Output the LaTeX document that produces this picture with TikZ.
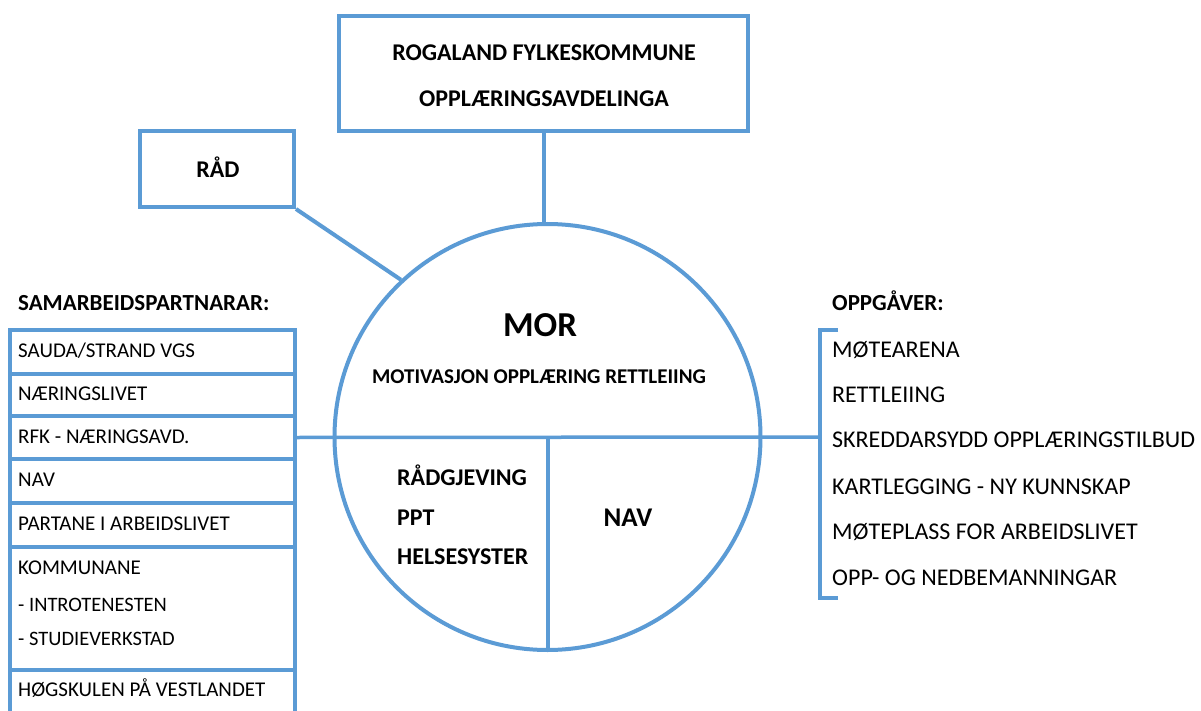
\documentclass[tikz,border=0pt]{standalone}
\usepackage{fontspec}
\setmainfont{Carlito}
\definecolor{accent}{RGB}{91,155,213}
\begin{document}
\begin{tikzpicture}[x=1pt,y=-1pt,
  box/.style={draw=accent, line width=4pt, inner sep=0pt},
  cell/.style={draw=accent, line width=3.5pt, minimum width=285pt, inner sep=0pt},
  conn/.style={draw=accent, line width=4pt},
  txt/.style={inner sep=0pt, text depth=0pt},
  litem/.style={txt, anchor=west, text height=13.5pt, font=\fontsize{21}{25}\selectfont},
  ritem/.style={txt, anchor=west, text height=15.5pt, font=\fontsize{24}{28}\selectfont},
  head/.style={txt, anchor=west, text height=14.8pt, font=\fontsize{23}{27}\selectfont\bfseries},
  btxt/.style={txt, text height=15.5pt, font=\fontsize{24}{28}\selectfont\bfseries}]
\useasboundingbox (0,0) rectangle (1201,711);
\clip (0,0) rectangle (1201,711);
\fill[white] (0,0) rectangle (1201,711);

% top box
\node[box, minimum width=409pt, minimum height=115pt] (rfk) at (543.5,73.5) {};
\node[btxt] (rfk1) at (544,53) {ROGALAND FYLKESKOMMUNE};
\node[btxt] (rfk2) at (544,99) {OPPLÆRINGSAVDELINGA};

% RÅD box
\node[box, minimum width=154pt, minimum height=76pt] (raad) at (217,169) {};
\node[btxt] (raadt) at (218,170) {RÅD};

% circle
\node[draw=accent, line width=4pt, circle, minimum size=426pt, inner sep=0pt] (mor) at (547.5,437) {};
\coordinate (mortop) at (rfk.south |- mor.north);
\draw[conn] (rfk.south) -- (mortop);
\draw[conn] (raad.south east) -- (mor.133);

\node[txt, text height=22.2pt, font=\fontsize{35}{40}\selectfont\bfseries] (mort) at (540,325) {MOR};
\node[txt, text height=13.5pt, font=\fontsize{21}{25}\selectfont\bfseries] (motiv) at (539,377) {MOTIVASJON OPPLÆRING RETTLEIING};
\node[btxt, anchor=west] (c1) at (397,478) {RÅDGJEVING};
\node[btxt, anchor=west] (c2) at (397,518) {PPT};
\node[btxt, anchor=west] (c3) at (397,557) {HELSESYSTER};
\node[txt, text height=17.4pt, font=\fontsize{27}{31}\selectfont\bfseries] (nav) at (628,518) {NAV};

% left list
\node[head] (samh) at (18,303) {SAMARBEIDSPARTNARAR:};
\node[cell, minimum height=44pt] (r1) at (152.5,352) {};
\node[cell, minimum height=42pt] (r2) at (152.5,395) {};
\node[cell, minimum height=43pt] (r3) at (152.5,437.5) {};
\node[cell, minimum height=44pt] (r4) at (152.5,481) {};
\node[cell, minimum height=44pt] (r5) at (152.5,525) {};
\node[cell, minimum height=123pt] (r6) at (152.5,608.5) {};
\node[cell, minimum height=90pt] (r7) at (152.5,715) {};
\node[litem] (t1) at (18,351) {SAUDA/STRAND VGS};
\node[litem] (t2) at (18,394) {NÆRINGSLIVET};
\node[litem] (t3) at (18,437) {RFK - NÆRINGSAVD.};
\node[litem] (t4) at (18,480) {NAV};
\node[litem] (t5) at (18,524) {PARTANE I ARBEIDSLIVET};
\node[litem] (t6) at (18,568) {KOMMUNANE};
\node[litem, text height=13.2pt, font=\fontsize{20.5}{24}\selectfont] (t6a) at (18,605) {- INTROTENESTEN};
\node[litem, text height=13.2pt, font=\fontsize{20.5}{24}\selectfont] (t6b) at (18,639) {- STUDIEVERKSTAD};
\node[litem] (t7) at (18,690) {HØGSKULEN PÅ VESTLANDET};

% right bracket
\coordinate (btop) at (838,330);
\coordinate (btopl) at (820,330);
\coordinate (bbot) at (838,598);
\coordinate (bbotl) at (820,598);
\coordinate (bmid) at (820,437);
\draw[conn, line width=3.5pt] (btop) -- (btopl) -- (bbotl) -- (bbot);
\draw[conn, line width=3.5pt] (r3.east) -- (bmid);
\draw[conn] (mor.center) -- (mor.south);

\node[head] (oppg) at (832,303) {OPPGÅVER:};
\node[ritem] (o1) at (832,350) {MØTEARENA};
\node[ritem] (o2) at (832,395) {RETTLEIING};
\node[ritem] (o3) at (832,440) {SKREDDARSYDD OPPLÆRINGSTILBUD};
\node[ritem] (o4) at (832,487) {KARTLEGGING - NY KUNNSKAP};
\node[ritem] (o5) at (832,532) {MØTEPLASS FOR ARBEIDSLIVET};
\node[ritem] (o6) at (832,578) {OPP- OG NEDBEMANNINGAR};
\end{tikzpicture}
\end{document}
